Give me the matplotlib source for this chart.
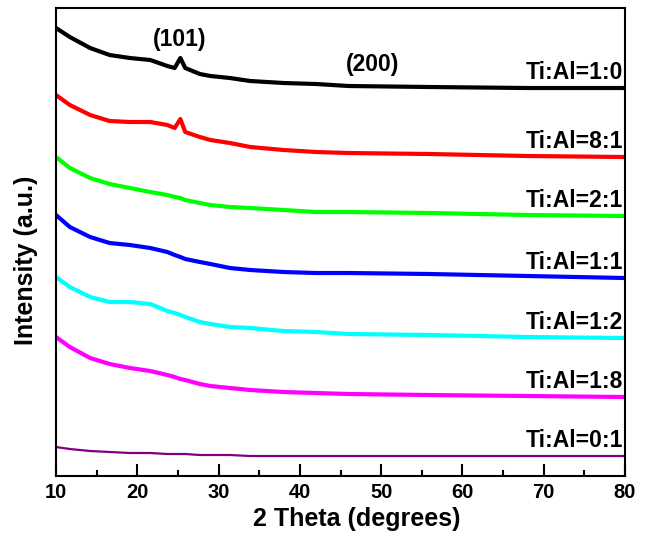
import matplotlib
matplotlib.use('Agg')
import matplotlib.pyplot as plt
from matplotlib.ticker import MultipleLocator

plt.rcParams['font.family'] = ['Liberation Sans', 'DejaVu Sans']
plt.rcParams['font.weight'] = 'bold'

# 2 theta sample positions (degrees)
two_theta = [10, 11.7, 14.2, 16.6, 19.1, 21.6, 23.7, 24.6, 25.3, 25.9,
             27.7, 29, 31.4, 33.9, 38, 42, 46, 56, 68, 80]

# intensities (a.u., already stacked)
i_10 = [448, 439, 428, 421, 418, 416, 410, 408, 418, 408, 402, 400, 398, 395, 393, 392, 390, 389, 388, 388]
i_81 = [381, 371, 361, 355, 354, 354, 351, 348, 357, 344, 339, 336, 333, 329, 326, 324, 323, 322, 320, 319]
i_21 = [319, 308, 298, 292, 288, 284, 281, 279, 278, 276, 273, 271, 269, 268, 266, 264, 264, 263, 261, 260]
i_11 = [261, 249, 239, 233, 231, 228, 224, 221, 219, 217, 214, 212, 208, 206, 204, 203, 203, 202, 200, 198]
i_12 = [199, 189, 179, 174, 174, 172, 165, 163, 161, 159, 154, 152, 149, 148, 145, 144, 142, 141, 139, 138]
i_18 = [139, 129, 118, 112, 108, 105, 101, 99, 97, 96, 92, 90, 88, 86, 84, 83, 82, 81, 80, 79]
i_01 = [29, 27, 25, 24, 23, 23, 22, 22, 22, 22, 21, 21, 21, 20, 20, 20, 20, 20, 20, 20]

series = [i_10, i_81, i_21, i_11, i_12, i_18, i_01]
names = ['Ti:Al=1:0', 'Ti:Al=8:1', 'Ti:Al=2:1', 'Ti:Al=1:1', 'Ti:Al=1:2', 'Ti:Al=1:8', 'Ti:Al=0:1']
colors = ['#000000', '#ff0000', '#00ff00', '#0000ff', '#00ffff', '#ff00ff', '#800080']
widths = [3.0, 3.0, 3.0, 3.0, 3.0, 3.0, 1.6]

peaks = ['(101)', '(200)']
peak_pos = [25.25, 48.9]
peak_y = [437, 412]

fig = plt.figure(figsize=(6.46, 5.34), dpi=100)
ax = fig.add_axes([0.0867, 0.1086, 0.8808, 0.8764])

for y, name, c, lw in zip(series, names, colors, widths):
    ax.plot(two_theta, y, color=c, lw=lw, solid_joinstyle='round')
    ax.text(79.75, y[-1] + 9, name, ha='right', va='baseline', fontsize=16.5, fontweight='bold')

for p, x, y in zip(peaks, peak_pos, peak_y):
    ax.text(x, y, p, ha='center', va='center', fontsize=16.5, fontweight='bold')

ax.set_xlim(10, 80)
ax.set_ylim(0, 468)
ax.xaxis.set_major_locator(MultipleLocator(10))
ax.xaxis.set_minor_locator(MultipleLocator(5))
ax.set_yticks([])
ax.tick_params(axis='x', which='major', direction='in', length=9, width=1.5, pad=5, labelsize=14.5)
ax.tick_params(axis='x', which='minor', direction='in', length=4, width=1.5)
for lab in ax.get_xticklabels():
    lab.set_fontweight('bold')
for s in ax.spines.values():
    s.set_linewidth(1.5)

ax.set_xlabel('2 Theta (degrees)', fontsize=18, fontweight='bold')
ax.xaxis.set_label_coords(0.529, -0.066)
ax.set_ylabel('Intensity (a.u.)', fontsize=18, fontweight='bold')
ax.yaxis.set_label_coords(-0.0316, 0.4615)

fig.savefig('out.png', dpi=100)
